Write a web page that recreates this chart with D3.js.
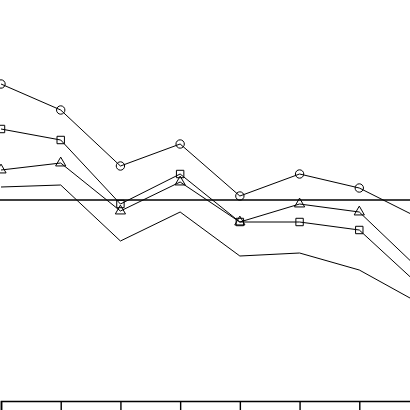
<!DOCTYPE html>
<html>
<head>
<meta charset="utf-8">
<script src="https://cdn.jsdelivr.net/npm/d3@7"></script>
<style>
  html, body { margin: 0; padding: 0; background: #fff; }
  svg { display: block; }
</style>
</head>
<body>
<svg id="chart" width="410" height="410"></svg>
<script>
const periods = [0, 1, 2, 3, 4, 5, 6, 7];
const circleSeries = [5.8, 4.5, 1.7, 2.8, 0.2, 1.3, 0.6, -0.9];
const squareSeries = [3.55, 3.0, -0.2, 1.3, -1.1, -1.1, -1.5, -4.25];
const triangleSeries = [1.5, 1.85, -0.55, 0.9, -1.1, -0.2, -0.6, -3.45];
const plainSeries = [0.65, 0.75, -2.05, -0.6, -2.8, -2.65, -3.5, -5.15];

const width = 410, height = 410;
const svg = d3.select("#chart");

const x = d3.scaleLinear().domain([0, 7]).range([1, 419]);
const y = d3.scaleLinear().domain([-10, 10]).range([400, 0]);

// zero reference line
svg.append("line")
  .attr("x1", 0).attr("x2", width)
  .attr("y1", y(0)).attr("y2", y(0))
  .attr("stroke", "#000").attr("stroke-width", 1.4);

// bottom axis, labels cropped out
const axis = svg.append("g")
  .attr("transform", "translate(0,401)")
  .call(d3.axisBottom(x).tickValues(periods).tickSize(10).tickFormat(""));
axis.select(".domain").attr("stroke-width", 1.6);
axis.selectAll(".tick line").attr("stroke-width", 1.4);

const line = d3.line().x((d, i) => x(periods[i])).y((d) => y(d));

const series = [
  { vals: circleSeries, sym: d3.symbolCircle },
  { vals: squareSeries, sym: d3.symbolSquare },
  { vals: triangleSeries, sym: d3.symbolTriangle },
  { vals: plainSeries, sym: null },
];

series.forEach((s) => {
  svg.append("path")
    .attr("d", line(s.vals))
    .attr("fill", "none")
    .attr("stroke", "#000")
    .attr("stroke-width", 1);
  if (!s.sym) return;
  svg.append("g")
    .selectAll("path")
    .data(s.vals)
    .enter()
    .append("path")
    .attr("d", d3.symbol().type(s.sym).size(s.sym === d3.symbolTriangle ? 45 : 55))
    .attr("transform", (d, i) => `translate(${x(periods[i])},${y(d)})`)
    .attr("fill", "none")
    .attr("stroke", "#000")
    .attr("stroke-width", 1);
});
</script>
</body>
</html>
